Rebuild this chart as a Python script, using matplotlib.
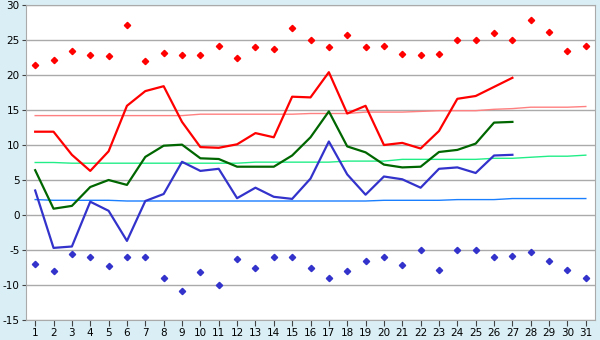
import matplotlib
matplotlib.use("Agg")
import matplotlib.pyplot as plt

plt.rcParams["axes.unicode_minus"] = False

days = list(range(1, 32))
days_obs = list(range(1, 28))

# daily max / min (markers)
t_max = [21.4, 22.2, 23.5, 22.8, 22.7, 27.2, 22.0, 23.1, 22.8, 22.8,
         24.2, 22.4, 24.0, 23.7, 26.7, 25.0, 24.0, 25.7, 24.0, 24.1,
         23.0, 22.8, 23.0, 25.0, 25.0, 26.0, 25.0, 27.8, 26.1, 23.5, 24.2]
t_min = [-7.0, -8.0, -5.6, -6.0, -7.3, -6.0, -6.0, -9.0, -10.9, -8.2,
         -10.0, -6.3, -7.5, -6.0, -6.0, -7.5, -9.0, -8.0, -6.5, -6.0,
         -7.2, -5.0, -7.8, -5.0, -5.0, -6.0, -5.8, -5.3, -6.5, -7.9, -9.0]

# observed lines
hi = [11.9, 11.9, 8.6, 6.3, 9.1, 15.6, 17.7, 18.4, 13.3, 9.7,
      9.6, 10.1, 11.7, 11.1, 16.9, 16.8, 20.4, 14.5, 15.6, 10.0,
      10.3, 9.5, 12.0, 16.6, 17.0, 18.3, 19.6]
mean = [6.4, 0.9, 1.3, 4.0, 5.0, 4.3, 8.3, 9.9, 10.05, 8.1,
        8.0, 6.9, 6.9, 6.9, 8.5, 11.1, 14.8, 9.8, 8.95, 7.2,
        6.8, 6.9, 9.0, 9.3, 10.2, 13.2, 13.3]
lo = [3.5, -4.7, -4.5, 1.9, 0.6, -3.7, 2.0, 3.0, 7.6, 6.3,
      6.6, 2.4, 3.9, 2.6, 2.3, 5.2, 10.5, 5.8, 2.9, 5.5,
      5.1, 3.9, 6.6, 6.8, 6.0, 8.5, 8.6]

# normals
norm_hi = [14.2]*9 + [14.4]*6 + [14.5]*3 + [14.7]*3 + [14.8] + [14.9]*3 + \
          [15.1, 15.2, 15.4, 15.4, 15.4, 15.5]
norm_mean = [7.5]*2 + [7.4]*10 + [7.55]*5 + [7.7]*3 + [7.95]*5 + \
            [8.1, 8.1, 8.25, 8.4, 8.4, 8.55]
norm_lo = [2.2] + [2.1]*4 + [2.0]*14 + [2.1]*4 + [2.2]*3 + [2.35]*5

fig = plt.figure(figsize=(6, 3.4), dpi=100, facecolor="#d9eef5")
ax = fig.add_axes([26/600, 20/340, 569/600, 315/340])
ax.set_facecolor("white")

ax.plot(days, norm_hi, color="#ff8080", lw=1)
ax.plot(days, norm_mean, color="#22ee88", lw=1)
ax.plot(days, norm_lo, color="#1a7fff", lw=1)

ax.plot(days_obs, hi, color="#ff0000", lw=1.6)
ax.plot(days_obs, mean, color="#006600", lw=1.6)
ax.plot(days_obs, lo, color="#3333cc", lw=1.6)

ax.plot(days, t_max, "D", color="#ff0000", ms=3.2, ls="none")
ax.plot(days, t_min, "D", color="#3333cc", ms=3.2, ls="none")

ax.set_xlim(0.5, 31.5)
ax.set_ylim(-15, 30)
ax.set_xticks(days)
ax.set_yticks(range(-15, 31, 5))
ax.yaxis.grid(True, color="#aaaaaa", lw=1)
ax.set_axisbelow(True)
for s in ax.spines.values():
    s.set_color("#aaaaaa")
ax.tick_params(colors="#444444", labelcolor="black", labelsize=7.5, length=4, pad=2)
ax.tick_params(axis="y", length=3, pad=1.5)

fig.savefig("out.png", dpi=100, facecolor=fig.get_facecolor())
